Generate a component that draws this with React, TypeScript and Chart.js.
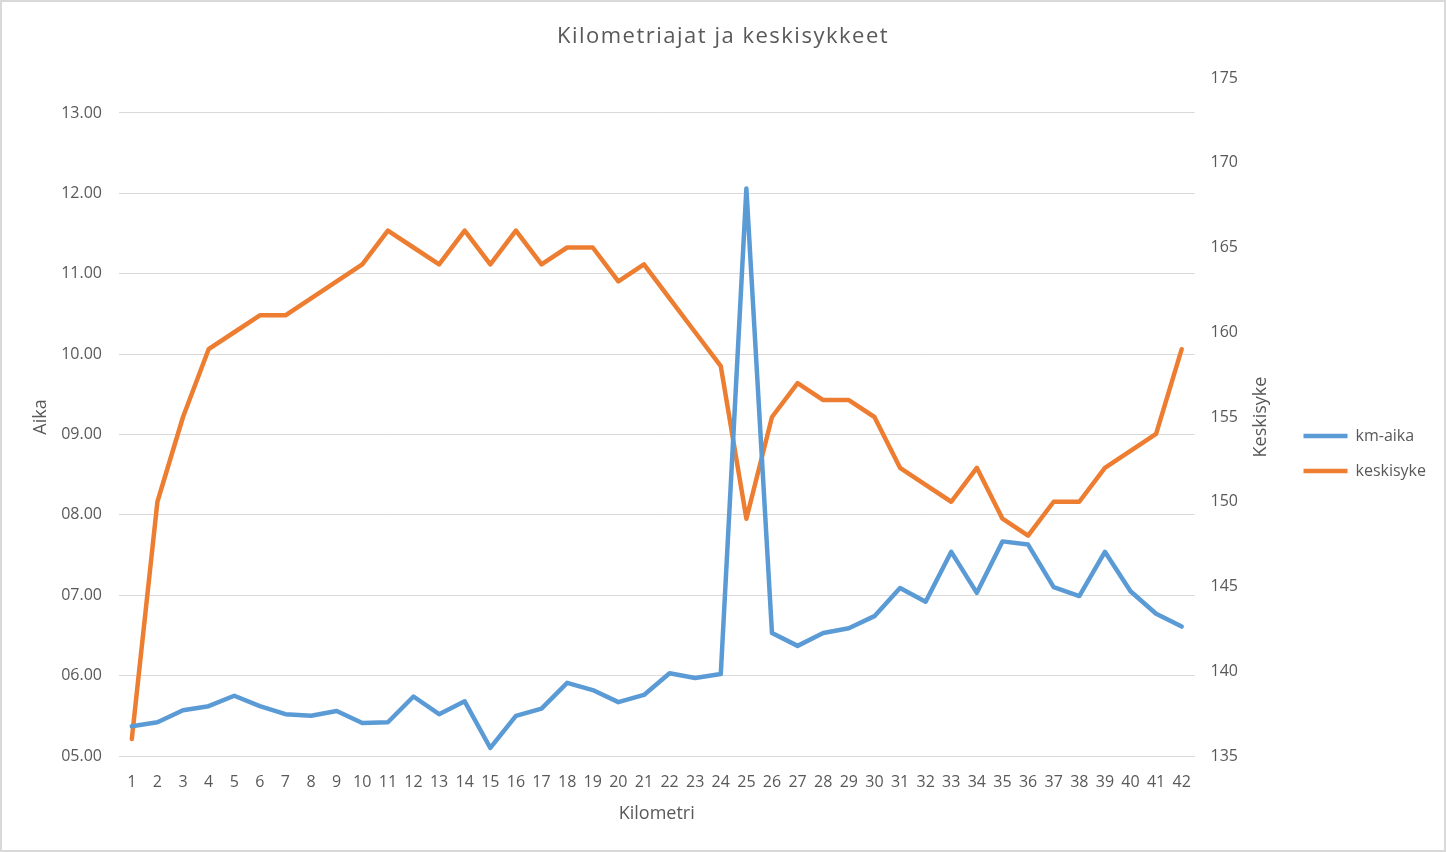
import Chart from 'chart.js/auto';
import { useEffect, useRef } from 'react';

// kilometrit 1..42
const kilometrit: string[] = [
  '1', '2', '3', '4', '5', '6', '7', '8', '9', '10', '11', '12', '13', '14',
  '15', '16', '17', '18', '19', '20', '21', '22', '23', '24', '25', '26', '27', '28',
  '29', '30', '31', '32', '33', '34', '35', '36', '37', '38', '39', '40', '41', '42',
];

// km-aika, minuutteina
const kmAika: number[] = [
  5.37, 5.42, 5.57, 5.62, 5.75, 5.62, 5.52, 5.50, 5.56, 5.41, 5.42, 5.74, 5.52, 5.68,
  5.10, 5.50, 5.59, 5.91, 5.82, 5.67, 5.76, 6.03, 5.97, 6.02, 12.06, 6.53, 6.37, 6.53,
  6.59, 6.74, 7.09, 6.92, 7.54, 7.03, 7.67, 7.63, 7.10, 6.99, 7.54, 7.05, 6.77, 6.61,
];

// keskisyke
const keskisyke: number[] = [
  136, 150, 155, 159, 160, 161, 161, 162, 163, 164, 166, 165, 164, 166,
  164, 166, 164, 165, 165, 163, 164, 162, 160, 158, 149, 155, 157, 156,
  156, 155, 152, 151, 150, 152, 149, 148, 150, 150, 152, 153, 154, 159,
];

const TITLE = 'Kilometriajat ja keskisykkeet';
const FONT = '"Open Sans", "Noto Sans", sans-serif';
const GRAY = '#595959';

// otsikko harvemmalla kirjainvälillä + oikean akselin otsikko alhaalta ylös (kuten Excelissä)
const titles = {
  id: 'titles',
  afterDraw(chart: any) {
    const ctx = chart.ctx;
    ctx.save();
    ctx.fillStyle = GRAY;
    ctx.textAlign = 'center';
    ctx.textBaseline = 'middle';
    ctx.font = '22px ' + FONT;
    (ctx as any).letterSpacing = '1.5px';
    ctx.fillText(TITLE, chart.width / 2, 35);
    (ctx as any).letterSpacing = '0px';

    const s = chart.scales.y1;
    ctx.translate(s.right - 24, (chart.chartArea.top + chart.chartArea.bottom) / 2);
    ctx.rotate(-Math.PI / 2);
    ctx.font = '18px ' + FONT;
    ctx.fillText('Keskisyke', 0, 0);
    ctx.restore();
  },
};

const App = () => {
  const chartRef = useRef<HTMLCanvasElement>(null);

  useEffect(() => {
    const config: any = {
      type: 'line',
      data: {
        labels: kilometrit,
        datasets: [{
          label: 'km-aika',
          data: kmAika,
          yAxisID: 'y',
          borderColor: '#5B9BD5',
          backgroundColor: '#5B9BD5',
          borderWidth: 4.5,
          borderCapStyle: 'round',
          borderJoinStyle: 'round',
          pointRadius: 0,
          tension: 0,
        }, {
          label: 'keskisyke',
          data: keskisyke,
          yAxisID: 'y1',
          borderColor: '#ED7D31',
          backgroundColor: '#ED7D31',
          borderWidth: 4.5,
          borderCapStyle: 'round',
          borderJoinStyle: 'round',
          pointRadius: 0,
          tension: 0,
        }]
      },
      options: {
        responsive: true,
        maintainAspectRatio: false,
        animation: false,
        layout: { padding: { left: 0, right: 8, top: 76, bottom: 21 } },
        plugins: {
          title: { display: false },
          legend: {
            position: 'right',
            labels: {
              usePointStyle: true,
              pointStyle: 'line',
              pointStyleWidth: 44,
              color: GRAY,
              padding: 19,
              font: { family: FONT, size: 16 },
            },
          },
          tooltip: { enabled: false },
        },
        scales: {
          x: {
            offset: true,
            grid: { display: false, drawTicks: false },
            border: { display: true, color: '#d9d9d9', width: 1 },
            ticks: { color: GRAY, font: { family: FONT, size: 16 }, padding: 17, maxRotation: 0, autoSkip: false },
            title: { display: true, text: 'Kilometri', color: GRAY, font: { family: FONT, size: 18 }, padding: { top: 0, bottom: 4 } },
            afterFit: (s: any) => { s.height = 73; },
          },
          y: {
            position: 'left',
            min: 5,
            max: 13.435,
            grid: { color: '#d9d9d9', lineWidth: 1, drawTicks: false },
            border: { display: false },
            ticks: {
              stepSize: 1,
              includeBounds: false,
              color: GRAY,
              padding: 17,
              font: { family: FONT, size: 16 },
              callback: (v: number) => String(v).padStart(2, '0') + '.00',
            },
            title: { display: true, text: 'Aika', color: GRAY, font: { family: FONT, size: 18 }, padding: { top: 28, bottom: 0 } },
            afterFit: (s: any) => { s.width = 117; },
          },
          y1: {
            position: 'right',
            min: 135,
            max: 175,
            grid: { display: false, drawTicks: false },
            border: { display: false },
            ticks: { stepSize: 5, color: GRAY, padding: 16, font: { family: FONT, size: 16 } },
            afterFit: (s: any) => { s.width = 90; },
          },
        },
      },
      plugins: [titles],
    };

    const myChart = new Chart(chartRef.current!, config);

    return () => {
      myChart.destroy();
    };
  }, []);

  return (
    <div style={{
      position: 'fixed', left: 0, top: 0, width: 1446, height: 852,
      boxSizing: 'border-box', border: '2px solid #d9d9d9', background: '#fff',
    }}>
      <canvas ref={chartRef}></canvas>
    </div>
  );
};

export default App;
